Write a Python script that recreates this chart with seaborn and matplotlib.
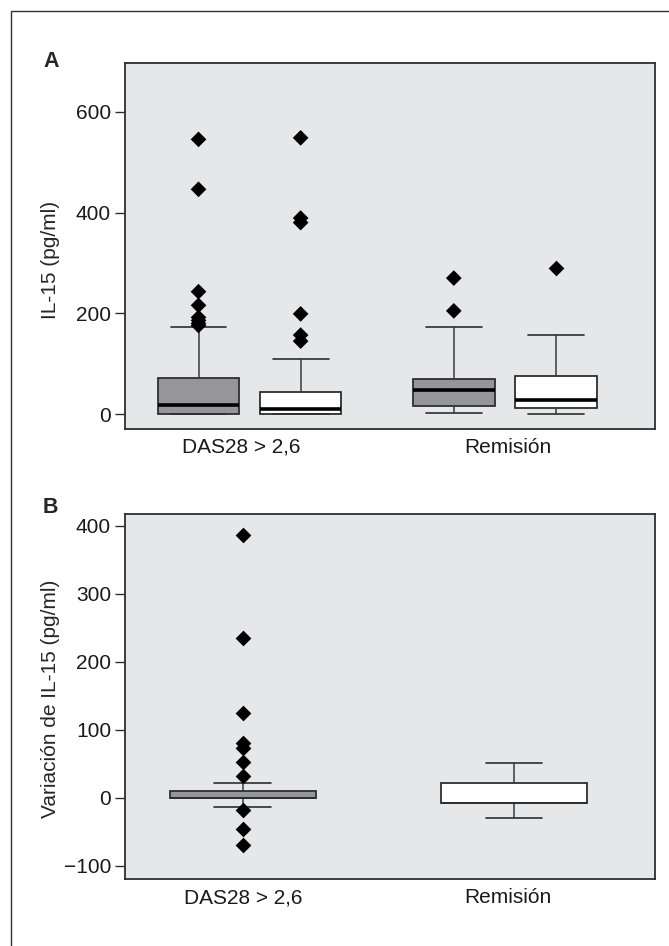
import numpy as np
import pandas as pd
import matplotlib
matplotlib.use("Agg")
import matplotlib.pyplot as plt
from matplotlib.lines import Line2D
import seaborn as sns

# categories
groups = ["DAS28 > 2,6", "Remisión"]
visits = ["Basal", "Final"]

# panel A: five-number summary per box (low whisker, q1, median, q3, high whisker)
il15_das_basal = [0, 0, 17.8, 71.4, 173.7]
il15_das_final = [0, 0, 9.9, 44.8, 109]
il15_rem_basal = [3.2, 16.5, 47.6, 70.6, 173.1]
il15_rem_final = [1.2, 11.9, 28.4, 75.9, 157.2]

# panel A: outliers
out_das_basal = [545, 446, 243, 216, 192, 186, 180, 176]
out_das_final = [548, 389, 380, 199, 157, 145]
out_rem_basal = [270, 205]
out_rem_final = [290]

# panel B: change in IL-15
var_das = [-13.2, 0, 0, 9.9, 21.6]
var_rem = [-30.3, -8.3, -8.3, 21.1, 51.5]
out_var_das = [386, 235, 125, 80, 73, 52, 32, -18, -46, -69]

yticks_a = [0, 200, 400, 600]
yticks_b = [-100, 0, 100, 200, 300, 400]

GRAY = "#959699"
BG = "#e6e7e8"
EDGE = "#2e2e2e"


def long_df(rows):
    recs = []
    for g, v, vals in rows:
        for x in vals:
            recs.append((g, v, x))
    return pd.DataFrame(recs, columns=["grupo", "visita", "valor"])


box_a = long_df([
    (groups[0], visits[0], il15_das_basal),
    (groups[0], visits[1], il15_das_final),
    (groups[1], visits[0], il15_rem_basal),
    (groups[1], visits[1], il15_rem_final),
])
pts_a = long_df([
    (groups[0], visits[0], out_das_basal),
    (groups[0], visits[1], out_das_final),
    (groups[1], visits[0], out_rem_basal),
    (groups[1], visits[1], out_rem_final),
])
box_b = long_df([
    (groups[0], "", var_das),
    (groups[1], "", var_rem),
])
pts_b = long_df([(groups[0], "", out_var_das)])

sns.set_theme(style="ticks")
plt.rcParams["font.family"] = ["Liberation Sans", "DejaVu Sans"]
plt.rcParams["font.size"] = 15
plt.rcParams["axes.unicode_minus"] = True

fig = plt.figure(figsize=(6.69, 9.46), dpi=100)
ax_a = fig.add_axes([125 / 669, 1 - 428.7 / 946, 529.7 / 669, 366 / 946])
ax_b = fig.add_axes([125 / 669, 1 - 879.3 / 946, 529.7 / 669, 365 / 946])

line_kw = dict(
    whis=(0, 100), fliersize=0, linecolor=EDGE, linewidth=1.3, legend=False,
    whiskerprops=dict(color="#3a3a3a", linewidth=1.1),
    capprops=dict(color=EDGE, linewidth=1.2),
)

# panel A
sns.boxplot(data=box_a, x="grupo", y="valor", hue="visita", order=groups,
            hue_order=visits, palette=[GRAY, "white"], width=0.8, gap=0.2,
            medianprops=dict(color="black", linewidth=2.6),
            capwidths=0.219, ax=ax_a, **line_kw)
sns.stripplot(data=pts_a, x="grupo", y="valor", hue="visita", order=groups,
              hue_order=visits, palette={"Basal": "black", "Final": "black"},
              dodge=True, jitter=False, marker="D", size=8, linewidth=0,
              legend=False, zorder=4, ax=ax_a)

# panel B
sns.boxplot(data=box_b, x="grupo", y="valor", hue="grupo", order=groups,
            hue_order=groups, palette=[GRAY, "white"], width=0.538,
            medianprops=dict(color=EDGE, linewidth=1.3),
            capwidths=0.208, ax=ax_b, **line_kw)
sns.stripplot(data=pts_b, x="grupo", y="valor", order=groups, color="black",
              jitter=False, marker="D", size=8, linewidth=0, zorder=4, ax=ax_b)

for ax, yt, lim, xl, xt, lab, ly in [
    (ax_a, yticks_a, (-28.6, 697), (-0.488, 1.587), [-0.031, 1.012],
     "IL-15 (pg/ml)", 0.461),
    (ax_b, yticks_b, (-120, 417), (-0.433, 1.518), [0.002, 0.978],
     "Variación de IL-15 (pg/ml)", 0.494),
]:
    ax.set_facecolor(BG)
    ax.set_ylim(*lim)
    ax.set_xlim(*xl)
    ax.set_yticks(yt)
    ax.set_xticks(xt, groups)
    ax.set_xlabel("")
    ax.set_ylabel(lab, fontsize=15)
    ax.yaxis.set_label_coords(-0.123, ly)
    ax.tick_params(axis="y", length=7, width=1.0, color=EDGE, pad=3,
                   labelsize=15, labelcolor="#1a1a1a")
    ax.tick_params(axis="x", length=0, pad=6.5, labelsize=15,
                   labelcolor="#1a1a1a")
    for s in ax.spines.values():
        s.set_visible(True)
        s.set_color(EDGE)
        s.set_linewidth(1.3)

# panel letters and outer frame
fig.text(51 / 669, 1 - 66.7 / 946, "A", ha="center", va="baseline",
         fontsize=15.5, fontweight="bold",
         family=["Liberation Sans Narrow", "Liberation Sans"])
fig.text(50 / 669, 1 - 513 / 946, "B", ha="center", va="baseline",
         fontsize=15.5, fontweight="bold",
         family=["Liberation Sans Narrow", "Liberation Sans"])
fig.add_artist(Line2D([11 / 669, 11 / 669, 1.01], [-0.01, 1 - 11 / 946, 1 - 11 / 946],
                      transform=fig.transFigure, color="#333333", linewidth=1.0))

fig.savefig("out.png", dpi=100, facecolor="white")
